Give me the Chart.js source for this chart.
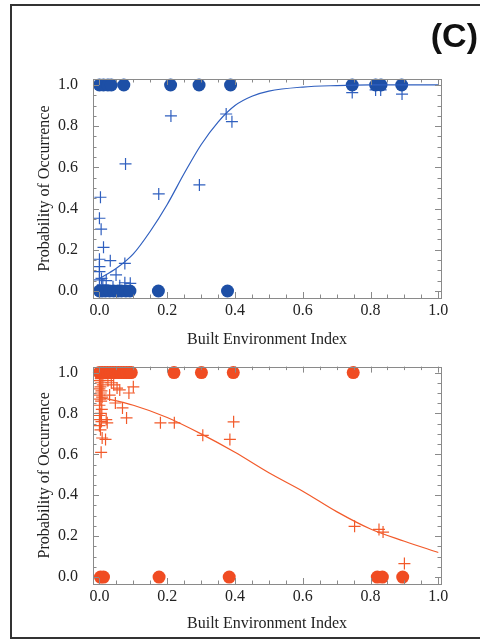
<!DOCTYPE html>
<html>
<head>
<meta charset="utf-8">
<script src="https://cdn.jsdelivr.net/npm/chart.js@4.4.1/dist/chart.umd.min.js"></script>
<style>
    html, body { margin: 0; padding: 0; background: #fff; }
    body { width: 480px; height: 643px; position: relative; overflow: hidden; }
    #frame { position: absolute; left: 10px; top: 4px; width: 480px; height: 635px; border: 2px solid #333; box-sizing: border-box; pointer-events: none; }
    #panelLabel { position: absolute; right: 2px; top: 17px; font: bold 34px "Liberation Sans", Arial, sans-serif; line-height: 36px; color: #111; }
    #topChart { position: absolute; left: 0; top: 0; }
    #bottomChart { position: absolute; left: 0; top: 350px; }
</style>
</head>
<body>
<canvas id="topChart" width="480" height="350"></canvas>
<canvas id="bottomChart" width="480" height="293"></canvas>
<div id="frame"></div>
<div id="panelLabel">(C)</div>
<script>
    "use strict";

    // tick labels / values
    const tickValues = [0, 0.2, 0.4, 0.6, 0.8, 1.0];
    const minorTickValues = [0.05, 0.1, 0.15, 0.25, 0.3, 0.35, 0.45, 0.5, 0.55, 0.65, 0.7, 0.75, 0.85, 0.9, 0.95];

    // top panel (blue): observed presences / absences
    const topPresentX = [0, 0.012, 0.025, 0.035, 0.072, 0.21, 0.294, 0.387, 0.746, 0.815, 0.831, 0.892];
    const topAbsentX = [0, 0.008, 0.018, 0.03, 0.042, 0.055, 0.065, 0.078, 0.09, 0.174, 0.378];
    // top panel predicted values (+)
    const topCrossX = [0.003, 0.0, 0.005, 0.012, 0.0, 0.032, 0.075, 0.0, 0.0, 0.049, 0.006, 0.0, 0.02, 0.075, 0.091, 0.01, 0.04, 0.06,
        0.077, 0.175, 0.211, 0.295, 0.374, 0.391, 0.746, 0.815, 0.83, 0.893];
    const topCrossY = [0.455, 0.353, 0.3, 0.212, 0.154, 0.147, 0.134, 0.118, 0.094, 0.078, 0.061, 0.054, 0.05, 0.04, 0.037, 0.03, 0.02, 0.025,
        0.617, 0.471, 0.85, 0.515, 0.859, 0.822, 0.963, 0.976, 0.976, 0.956];
    // top panel fitted curve
    const topCurveX = [0, 0.05, 0.1, 0.15, 0.2, 0.25, 0.3, 0.35, 0.4, 0.45, 0.5, 0.6, 0.7, 0.8, 0.9, 1.0];
    const topCurveY = [0.06, 0.11, 0.18, 0.29, 0.42, 0.57, 0.71, 0.82, 0.9, 0.945, 0.97, 0.99, 0.997, 1.0, 1.0, 1.0];

    // bottom panel (orange)
    const botPresentX = [0, 0.008, 0.016, 0.024, 0.032, 0.04, 0.048, 0.056, 0.064, 0.072, 0.08, 0.088, 0.094, 0.22, 0.301, 0.395, 0.749];
    const botAbsentX = [0.003, 0.012, 0.176, 0.383, 0.82, 0.835, 0.895];
    const botCrossX = [0.005, 0.008, 0.003, 0.0, 0.006, 0.002, 0.0, 0.004, 0.007, 0.0, 0.005, 0.002, 0.008, 0.0, 0.004, 0.006, 0.0, 0.003, 0.01, 0.005, 0.0, 0.004,
        0.018, 0.023, 0.02, 0.03, 0.042, 0.047, 0.052, 0.06, 0.068, 0.08, 0.087, 0.1, 0.025, 0.035,
        0.18, 0.221, 0.305, 0.385, 0.396, 0.753, 0.825, 0.837, 0.9];
    const botCrossY = [0.61, 0.68, 0.72, 0.74, 0.76, 0.77, 0.79, 0.8, 0.82, 0.84, 0.86, 0.87, 0.88, 0.89, 0.9, 0.91, 0.92, 0.93, 0.94, 0.95, 0.96, 0.97,
        0.673, 0.754, 0.77, 0.89, 0.94, 0.851, 0.924, 0.915, 0.827, 0.778, 0.9, 0.93, 0.96, 0.95,
        0.754, 0.754, 0.693, 0.673, 0.759, 0.248, 0.233, 0.22, 0.066];
    const botCurveX = [0, 0.1, 0.2, 0.3, 0.4, 0.5, 0.6, 0.7, 0.8, 0.9, 1.0];
    const botCurveY = [0.88, 0.84, 0.78, 0.7, 0.61, 0.51, 0.42, 0.32, 0.235, 0.175, 0.12];

    const serif = '"Liberation Serif", "Times New Roman", serif';

    // "utils" zip two arrays into {x, y} points
    function toPoints(xs, ys) {
        return xs.map((x, i) => ({ x: x, y: ys[i] }));
    }

    // Mathematica-style frame with inward ticks on all four sides
    const framePlugin = {
        id: 'frameTicks',
        afterDatasetsDraw(chart) {
            const { ctx, chartArea: a, scales: { x, y } } = chart;
            ctx.save();
            ctx.strokeStyle = '#8a8a8a';
            ctx.lineWidth = 1;
            ctx.strokeRect(Math.round(a.left) + 0.5, Math.round(a.top) + 0.5, Math.round(a.right - a.left), Math.round(a.bottom - a.top));
            const draw = (vals, len) => {
                ctx.beginPath();
                vals.forEach(v => {
                    const px = Math.round(x.getPixelForValue(v)) + 0.5;
                    const py = Math.round(y.getPixelForValue(v)) + 0.5;
                    ctx.moveTo(px, a.bottom); ctx.lineTo(px, a.bottom - len);
                    ctx.moveTo(px, a.top); ctx.lineTo(px, a.top + len);
                    ctx.moveTo(a.left, py); ctx.lineTo(a.left + len, py);
                    ctx.moveTo(a.right, py); ctx.lineTo(a.right - len, py);
                });
                ctx.stroke();
            };
            draw(tickValues, 6);
            draw(minorTickValues, 3.5);
            ctx.restore();
        }
    };

    function makeChart(id, color, lineColor, presentX, absentX, crossX, crossY, curveX, curveY, padTop, xHeight, xTitlePad, xTickPad) {
        return new Chart(document.getElementById(id), {
            type: 'scatter',
            data: {
                datasets: [{
                    type: 'line',
                    data: toPoints(curveX, curveY),
                    borderColor: lineColor,
                    borderWidth: 1.2,
                    pointRadius: 0,
                    cubicInterpolationMode: 'monotone',
                    fill: false,
                    order: 0
                }, {
                    data: presentX.map(v => ({ x: v, y: 1 })),
                    backgroundColor: color,
                    borderWidth: 0,
                    pointRadius: 6.5,
                    order: 1
                }, {
                    data: absentX.map(v => ({ x: v, y: 0 })),
                    backgroundColor: color,
                    borderWidth: 0,
                    pointRadius: 6.5,
                    order: 1
                }, {
                    data: toPoints(crossX, crossY),
                    pointStyle: 'cross',
                    pointRadius: 6,
                    borderColor: lineColor,
                    borderWidth: 1.2,
                    order: 2
                }]
            },
            options: {
                responsive: false,
                animation: false,
                clip: false,
                layout: { padding: { left: 0, right: 39, top: padTop, bottom: 0 } },
                plugins: { legend: { display: false }, tooltip: { enabled: false } },
                scales: {
                    x: {
                        type: 'linear',
                        min: -0.019,
                        max: 1.008,
                        grid: { display: false },
                        border: { display: false },
                        afterBuildTicks: axis => { axis.ticks = tickValues.map(v => ({ value: v })); },
                        afterFit: axis => { axis.height = xHeight; },
                        ticks: {
                            padding: xTickPad,
                            color: '#222',
                            font: { family: serif, size: 16 },
                            callback: v => v.toFixed(1)
                        },
                        title: {
                            display: true,
                            text: 'Built Environment Index',
                            color: '#222',
                            font: { family: serif, size: 16 },
                            padding: { top: 0, bottom: xTitlePad }
                        }
                    },
                    y: {
                        type: 'linear',
                        min: -0.034,
                        max: 1.029,
                        grid: { display: false },
                        border: { display: false },
                        afterBuildTicks: axis => { axis.ticks = tickValues.map(v => ({ value: v })); },
                        afterFit: axis => { axis.width = 93; },
                        ticks: {
                            padding: 7,
                            color: '#222',
                            font: { family: serif, size: 16 },
                            callback: v => v.toFixed(1)
                        },
                        title: {
                            display: true,
                            text: 'Probability of Occurrence',
                            color: '#222',
                            font: { family: serif, size: 16 },
                            padding: { top: 35, bottom: 0 }
                        }
                    }
                }
            },
            plugins: [framePlugin]
        });
    }

    makeChart('topChart', '#1d4fa6', '#2f5fbf', topPresentX, topAbsentX, topCrossX, topCrossY, topCurveX, topCurveY, 79, 52, 1, -5);
    makeChart('bottomChart', '#f04c22', '#f25a2a', botPresentX, botAbsentX, botCrossX, botCrossY, botCurveX, botCurveY, 15, 59, 10, -5);
</script>
</body>
</html>
